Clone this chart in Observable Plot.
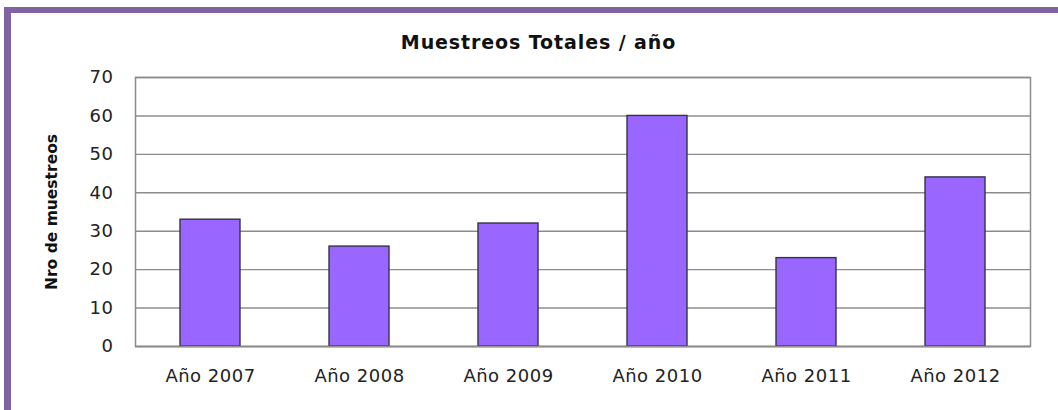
<!DOCTYPE html>
<html>
<head>
<meta charset="utf-8">
<script src="https://cdn.jsdelivr.net/npm/d3@7"></script>
<script src="https://cdn.jsdelivr.net/npm/@observablehq/plot@0.6"></script>
<style>
  html, body { margin: 0; padding: 0; background: #fff; }
  #wrap { position: relative; width: 1058px; height: 410px; overflow: hidden; background: #fff; }
  #border { position: absolute; left: 4px; top: 7px; width: 1100px; height: 500px;
            border-left: 7px solid #8064A2; border-top: 6px solid #8064A2; box-sizing: border-box; }
  #title { position: absolute; left: 0; width: 1077px; top: 31px; text-align: center;
           font-family: "DejaVu Sans", sans-serif; font-weight: bold; font-size: 19px;
           letter-spacing: 0.9px; color: #111; }
  #chart { position: absolute; left: 0; top: 0; }
</style>
</head>
<body>
<div id="wrap">
  <div id="border"></div>
  <div id="chart"></div>
  <div id="title">Muestreos Totales / año</div>
</div>
<script>
const categories = ["Año 2007", "Año 2008", "Año 2009", "Año 2010", "Año 2011", "Año 2012"];
const values = [33, 26, 32, 60, 23, 44];
const yTicks = [0, 10, 20, 30, 40, 50, 60, 70];
const yLabel = "Nro de muestreos";

const data = categories.map((c, i) => ({cat: c, v: values[i]}));

const chart = Plot.plot({
  width: 1058,
  height: 410,
  marginTop: 77,
  marginBottom: 64,
  marginLeft: 135,
  marginRight: 28,
  style: {fontFamily: "DejaVu Sans, sans-serif", fontSize: "18px", color: "#222", background: "transparent", letterSpacing: "0.5px"},
  x: {domain: categories, paddingInner: 0.6, paddingOuter: 0.3, label: null, tickSize: 0, tickPadding: 23},
  y: {domain: [0, 70], ticks: yTicks, label: yLabel, labelArrow: "none", labelAnchor: "center", tickSize: 0, tickPadding: 22, labelOffset: 90},
  marks: [
    Plot.frame({stroke: "#8c8c8c", strokeWidth: 1.5}),
    Plot.gridY(yTicks, {stroke: "#8c8c8c", strokeOpacity: 1, strokeWidth: 1.4}),
    Plot.barY(data, {x: "cat", y: "v", fill: "#9966FF", stroke: "#33334a", strokeWidth: 1.4}),
    Plot.ruleY([0], {stroke: "#8c8c8c", strokeWidth: 1.5})
  ]
});
document.getElementById("chart").appendChild(chart);
// strip any arrow and style the y-axis label
d3.select(chart).selectAll("text").each(function () {
  const t = this.textContent;
  if (t.includes("muestreos")) {
    this.textContent = t.replace(/[↑↓←→]/g, "").trim();
    d3.select(this).attr("font-weight", "bold").attr("font-size", 15.5).style("letter-spacing", "0px").attr("fill", "#111");
  }
});
</script>
</body>
</html>
